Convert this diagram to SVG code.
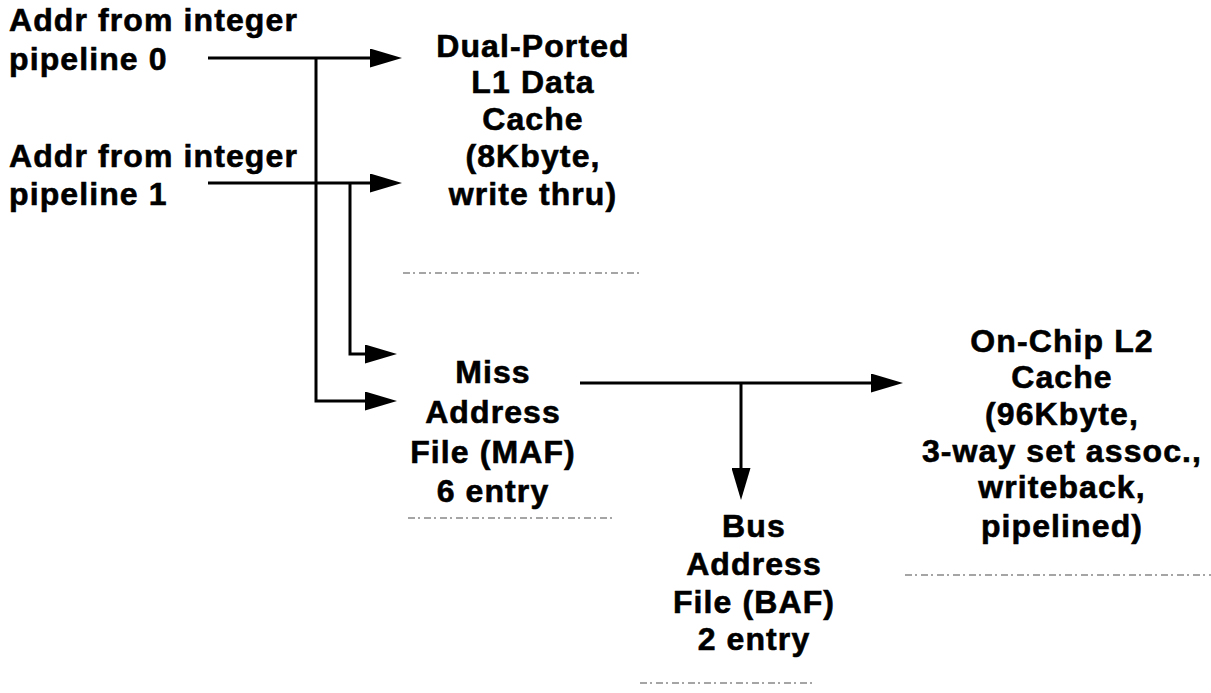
<svg xmlns="http://www.w3.org/2000/svg" width="1211" height="693" viewBox="0 0 1211 693">
<style>
text{font-family:"Liberation Sans",Arial,Helvetica,sans-serif;font-weight:bold;font-size:32px;letter-spacing:1.1px;fill:#000;stroke:#000;stroke-width:0.6}
.c{text-anchor:middle}
.w{fill:none;stroke:#000;stroke-width:3}
.edge{fill:none;stroke:#888;stroke-width:1.4;stroke-dasharray:7 3 2 4}
</style>
<defs>
<marker id="ah" viewBox="0 0 32 19" refX="22" refY="9.5" markerWidth="32" markerHeight="19" markerUnits="userSpaceOnUse" orient="auto">
<path d="M0,0 L32,9.5 L0,19 z" fill="#000"/>
</marker>
</defs>
<rect width="1211" height="693" fill="#fff"/>
<g id="src0">
<text x="9" y="31">Addr from integer</text>
<text x="9" y="70">pipeline 0</text>
</g>
<g id="src1">
<text x="9" y="167">Addr from integer</text>
<text x="9" y="205">pipeline 1</text>
</g>
<g id="l1">
<text class="c" x="533" y="57">Dual-Ported</text>
<text class="c" x="533" y="93">L1 Data</text>
<text class="c" x="533" y="130">Cache</text>
<text class="c" x="533" y="167">(8Kbyte,</text>
<text class="c" x="533" y="205">write thru)</text>
<line class="edge" x1="403" y1="273" x2="640" y2="273"/>
</g>
<g id="maf">
<text class="c" x="493" y="383">Miss</text>
<text class="c" x="493" y="423">Address</text>
<text class="c" x="493" y="463">File (MAF)</text>
<text class="c" x="493" y="502">6 entry</text>
<line class="edge" x1="408" y1="518" x2="612" y2="518"/>
</g>
<g id="baf">
<text class="c" x="754" y="537">Bus</text>
<text class="c" x="754" y="575">Address</text>
<text class="c" x="754" y="613">File (BAF)</text>
<text class="c" x="754" y="650">2 entry</text>
<line class="edge" x1="640" y1="683" x2="812" y2="683"/>
</g>
<g id="l2">
<text class="c" x="1062" y="352">On-Chip L2</text>
<text class="c" x="1062" y="388">Cache</text>
<text class="c" x="1062" y="425">(96Kbyte,</text>
<text class="c" x="1062" y="462">3-way set assoc.,</text>
<text class="c" x="1062" y="498">writeback,</text>
<text class="c" x="1062" y="537">pipelined)</text>
<line class="edge" x1="905" y1="575" x2="1211" y2="575"/>
</g>
<g id="connectors">
<path class="w" d="M208,58 H392" marker-end="url(#ah)"/>
<path class="w" d="M316,58 V401 H387" marker-end="url(#ah)"/>
<path class="w" d="M208,183 H392" marker-end="url(#ah)"/>
<path class="w" d="M350,183 V354 H387" marker-end="url(#ah)"/>
<path class="w" d="M580,383 H893" marker-end="url(#ah)"/>
<path class="w" d="M741,383 V490" marker-end="url(#ah)"/>
</g>
</svg>
